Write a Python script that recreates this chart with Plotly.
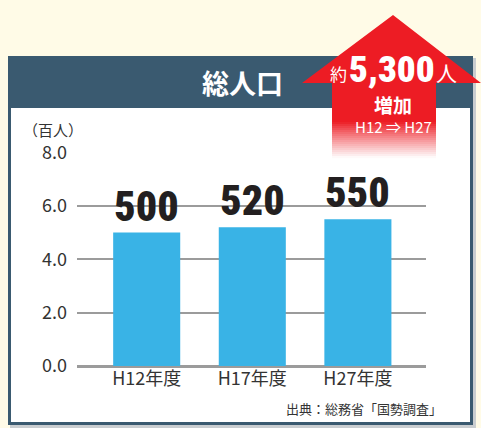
import plotly.graph_objects as go

categories = ["H12年度", "H17年度", "H27年度"]
values = [5.0, 5.2, 5.5]
value_labels = ["500", "520", "550"]
y_ticks = [0, 2, 4, 6, 8]
y_tick_labels = ["0.0", "2.0", "4.0", "6.0", "8.0"]
title_text = "総人口"
unit_text = "（百人）"
source_text = "出典：総務省「国勢調査」"
increase_text = "5,300"

W, H = 481, 428
L, R, T, B = 77, 55, 152, 62
PW, PH = W - L - R, H - T - B

def px(x):
    return (x - L) / PW

def py(y):
    return 1 - (y - T) / PH

CJK = "Noto Sans CJK JP"
NUM = "Roboto"
RED = "#ed1c24"
NAVY = "#3a5a70"

fig = go.Figure()
fig.add_trace(go.Bar(
    x=[0, 1, 2], y=values, width=0.635,
    marker=dict(color="#39b3e6", line=dict(width=0)),
    hoverinfo="skip",
))

shapes = []
shapes.append(dict(type="rect", xref="paper", yref="paper", x0=px(10), x1=px(476), y0=py(58), y1=py(428),
                   fillcolor="#c9cdd0", line=dict(width=0), layer="below"))
shapes.append(dict(type="rect", xref="paper", yref="paper", x0=px(8), x1=px(473), y0=py(56), y1=py(425),
                   fillcolor=NAVY, line=dict(width=0), layer="below"))
shapes.append(dict(type="rect", xref="paper", yref="paper", x0=px(11), x1=px(470), y0=py(108), y1=py(422),
                   fillcolor="white", line=dict(width=0), layer="below"))
path = "M {} {} L {} {} L {} {} L {} {} L {} {} L {} {} L {} {} Z".format(
    px(393), py(15), px(481), py(83), px(436), py(83), px(436), py(122),
    px(332), py(122), px(332), py(83), px(302), py(83))
shapes.append(dict(type="path", xref="paper", yref="paper", path=path,
                   fillcolor=RED, line=dict(width=0), layer="below"))
n = 18
y_start, y_end = 122, 158
r0, g0, b0 = 0xed, 0x1c, 0x24
for i in range(n):
    ya = y_start + (y_end - y_start) * i / n
    yb = y_start + (y_end - y_start) * (i + 1) / n
    t = ((i + 0.5) / n) ** 0.9
    r = int(r0 + (255 - r0) * t)
    g = int(g0 + (255 - g0) * t)
    b = int(b0 + (255 - b0) * t)
    shapes.append(dict(type="rect", xref="paper", yref="paper", x0=px(332), x1=px(436),
                       y0=py(yb + 0.3), y1=py(ya),
                       fillcolor=f"rgb({r},{g},{b})", line=dict(width=0), layer="below"))

annotations = []
for i, (v, lab) in enumerate(zip(values, value_labels)):
    annotations.append(dict(x=i, y=v, xref="x", yref="y", text=lab, showarrow=False,
                            yanchor="bottom", yshift=0,
                            font=dict(family=NUM, size=42, color="#231f20", weight=900)))

annotations += [
    dict(x=px(242), y=py(83), xref="paper", yref="paper", text=f"<b>{title_text}</b>", showarrow=False,
         font=dict(family=CJK, size=27, color="white"), xanchor="center", yanchor="middle"),
    dict(x=px(21), y=py(129), xref="paper", yref="paper", text=unit_text, showarrow=False,
         font=dict(family=CJK, size=15, color="#333333"), xanchor="left", yanchor="middle"),
    dict(x=px(444), y=py(408), xref="paper", yref="paper", text=source_text, showarrow=False,
         font=dict(family=CJK, size=13, color="#333333"), xanchor="right", yanchor="middle"),
    dict(x=px(349), y=py(73), xref="paper", yref="paper", text="約", showarrow=False,
         font=dict(family=CJK, size=17, color="white"), xanchor="right", yanchor="middle"),
    dict(x=px(392), y=py(69), xref="paper", yref="paper", text=increase_text, showarrow=False,
         font=dict(family=NUM, size=37, color="white", weight=900), xanchor="center", yanchor="middle"),
    dict(x=px(434), y=py(72), xref="paper", yref="paper", text="人", showarrow=False,
         font=dict(family=CJK, size=21, color="white"), xanchor="left", yanchor="middle"),
    dict(x=px(393), y=py(104), xref="paper", yref="paper", text="<b>増加</b>", showarrow=False,
         font=dict(family=CJK, size=19, color="white"), xanchor="center", yanchor="middle"),
    dict(x=px(393), y=py(126), xref="paper", yref="paper", text="H12 ⇒ H27", showarrow=False,
         font=dict(family=CJK, size=15, color="white"), xanchor="center", yanchor="middle"),
]

fig.update_layout(
    width=W, height=H,
    margin=dict(l=L, r=R, t=T, b=B, pad=0),
    paper_bgcolor="#fffbe7",
    plot_bgcolor="rgba(0,0,0,0)",
    showlegend=False,
    shapes=shapes,
    annotations=annotations,
    xaxis=dict(tickmode="array", tickvals=[0, 1, 2], ticktext=categories, range=[-0.66, 2.645],
               showgrid=False, zeroline=False, showline=False, ticks="",
               tickfont=dict(family=CJK, size=18, color="#333333"), fixedrange=True),
    yaxis=dict(tickmode="array", tickvals=y_ticks, ticktext=y_tick_labels, range=[0, 8.02],
               showgrid=True, gridcolor="#9b9b9b", gridwidth=2,
               zeroline=True, zerolinecolor="#9b9b9b", zerolinewidth=3,
               showline=False, ticks="", ticklabelstandoff=9,
               tickfont=dict(family=CJK, size=18, color="#333333"), fixedrange=True),
)

post = """
document.body.style.margin='0';
document.body.style.background='#fffbe7';
document.querySelectorAll('.annotation-text').forEach(function(t){
  if (t.style.fontFamily.indexOf('CJK') < 0) { t.style.fontStretch = '62.5%'; }
});
"""
fig.write_html("out.html", post_script=post, config={"displayModeBar": False})
